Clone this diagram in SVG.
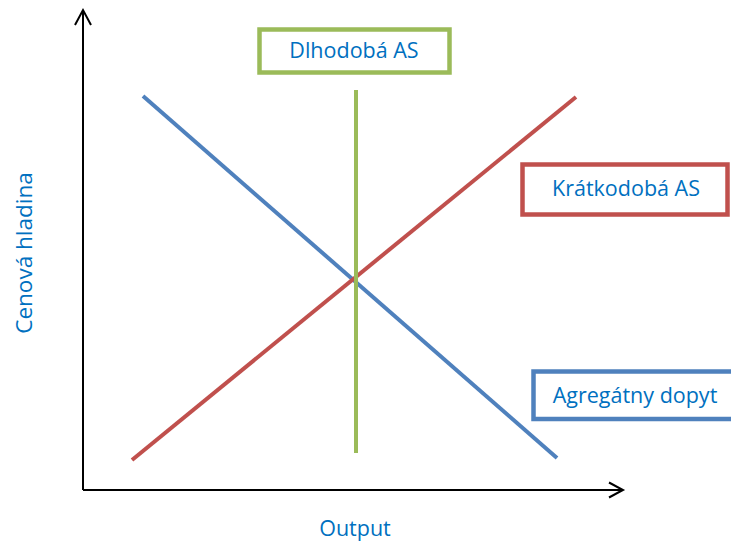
<svg xmlns="http://www.w3.org/2000/svg" width="731" height="543" viewBox="0 0 731 543">
<style>
.lbl{font-family:"Open Sans","Liberation Sans",sans-serif;fill:#0070C0;font-size:21.5px}
.ax{stroke:#000;stroke-width:2;fill:none}
.box{fill:#fff;stroke-width:4.5}
.ln{stroke-width:4;fill:none}
</style>
<rect width="731" height="543" fill="#fff"/>
<g id="connectors">
<path id="y-axis" class="ax" d="M83,490 V10 M75,25 L83,10 L91,25"/>
<path id="x-axis" class="ax" d="M83,490 H623 M609,482.5 L623,490 L609,497.5"/>
<line id="ad" class="ln" x1="143" y1="96" x2="557" y2="458" stroke="#4F81BD"/>
<line id="sras" class="ln" x1="132" y1="460" x2="576" y2="97" stroke="#C0504D"/>
<line id="lras" class="ln" x1="356" y1="90" x2="356" y2="453" stroke="#9BBB59"/>
</g>
<g id="node-lras">
<rect class="box" x="259.5" y="29.5" width="190" height="43" stroke="#9BBB59"/>
<text class="lbl" x="354" y="58" text-anchor="middle">Dlhodobá AS</text>
</g>
<g id="node-sras">
<rect class="box" x="522.5" y="164.5" width="205" height="50" stroke="#C0504D"/>
<text class="lbl" x="626" y="196" text-anchor="middle">Krátkodobá AS</text>
</g>
<g id="node-ad">
<rect class="box" x="533.5" y="371.5" width="210" height="47.5" stroke="#4F81BD"/>
<text class="lbl" x="635" y="403" text-anchor="middle">Agregátny dopyt</text>
</g>
<g id="label-x">
<text class="lbl" x="355" y="536" text-anchor="middle">Output</text>
</g>
<g id="label-y">
<text class="lbl" x="0" y="0" text-anchor="middle" transform="translate(32,253) rotate(-90)" style="font-size:22.5px">Cenová hladina</text>
</g>
</svg>
